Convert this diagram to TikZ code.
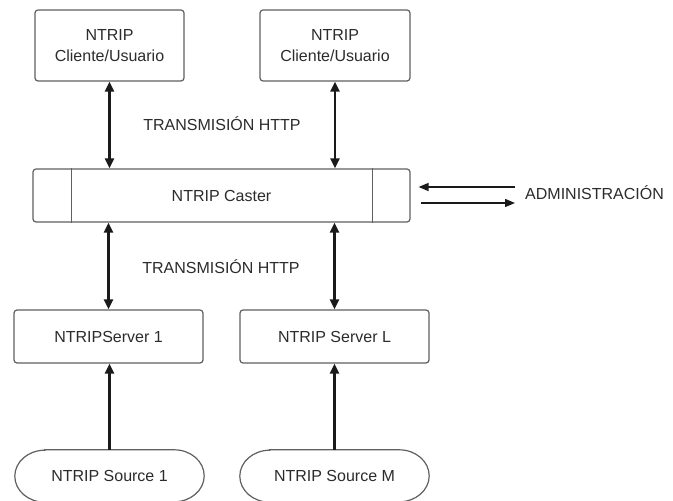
\documentclass[tikz,border=0pt]{standalone}
\usepackage{fontspec}
\setmainfont{Liberation Sans}
\usetikzlibrary{arrows.meta,calc}
\definecolor{edge}{HTML}{606060}
\definecolor{ink}{HTML}{2C2C2C}
\definecolor{wire}{HTML}{1A1A1A}
\tikzset{
  box/.style={draw=edge, line width=1.2pt, rounded corners=3pt, align=center,
    inner sep=0pt, text=ink, font=\fontsize{16}{21}\selectfont},
  plain/.style={inner sep=0pt, text=ink, font=\fontsize{16}{21}\selectfont},
  link/.style={draw=wire, line width=2.3pt,
    {Triangle[length=10pt,width=9pt]}-{Triangle[length=10pt,width=9pt]}},
  feed/.style={draw=wire, line width=2.3pt, -{Triangle[length=10pt,width=9pt]}},
  adm/.style={draw=wire, line width=1.4pt, -{Triangle[length=10pt,width=8pt]}},
}
\begin{document}
\begin{tikzpicture}[x=1pt,y=1pt]
\useasboundingbox (0,0) rectangle (673,501);
\fill[white] (0,0) rectangle (673,501);

% clients
\node[box, minimum width=149pt, minimum height=71pt] (c1) at (109.5,455.5) {NTRIP\\Cliente/Usuario};
\node[box, minimum width=150pt, minimum height=71pt] (c2) at (335,455.5) {NTRIP\\Cliente/Usuario};

% caster with its two side compartments
\node[box, minimum width=377pt, minimum height=53pt] (caster) at (221.5,305.5) {NTRIP Caster};
\draw[edge, line width=1.2pt] ([xshift=39pt]caster.north west) -- ([xshift=39pt]caster.south west);
\draw[edge, line width=1.2pt] ([xshift=-38pt]caster.north east) -- ([xshift=-38pt]caster.south east);

% servers
\node[box, minimum width=189pt, minimum height=53pt] (srv1) at (108.5,164.5) {NTRIPServer 1};
\node[box, minimum width=189pt, minimum height=53pt] (srvL) at (334.5,164.5) {NTRIP Server L};

% sources (stadium outlines with elliptic ends)
\node[plain, minimum width=189pt, minimum height=52pt] (src1) at (109.5,25) {NTRIP Source 1};
\node[plain, minimum width=189pt, minimum height=52pt] (srcM) at (334.5,25) {NTRIP Source M};
\foreach \s in {src1,srcM}{
  \draw[edge, line width=1.2pt]
    ($(\s.north west)+(30,0)$) -- ($(\s.north east)+(-30,0)$)
    arc[start angle=90, end angle=-90, x radius=30pt, y radius=26pt]
    -- ($(\s.south west)+(30,0)$)
    arc[start angle=270, end angle=90, x radius=30pt, y radius=26pt] -- cycle;
}

% labels
\node[plain] (http1) at (222,377) {TRANSMISIÓN HTTP};
\node[plain] (http2) at (221,234) {TRANSMISIÓN HTTP};
\node[plain, anchor=west] (admin) at (525,308) {ADMINISTRACIÓN};

% connectors
\draw[link] (c1.south) -- (c1.south |- caster.north);
\draw[link] (c2.south) -- (c2.south |- caster.north);
\draw[link] (srv1.north) -- (srv1.north |- caster.south);
\draw[link] (srvL.north) -- (srvL.north |- caster.south);
\draw[feed] (src1.north) -- (src1.north |- srv1.south);
\draw[feed] (srcM.north) -- (srcM.north |- srvL.south);
\draw[adm] ($(admin.west)+(-10,6)$) -- ($(caster.east)+(8,8.5)$);
\draw[adm] ($(caster.east)+(10,-7.5)$) -- ($(admin.west)+(-10,-10)$);
\end{tikzpicture}
\end{document}
